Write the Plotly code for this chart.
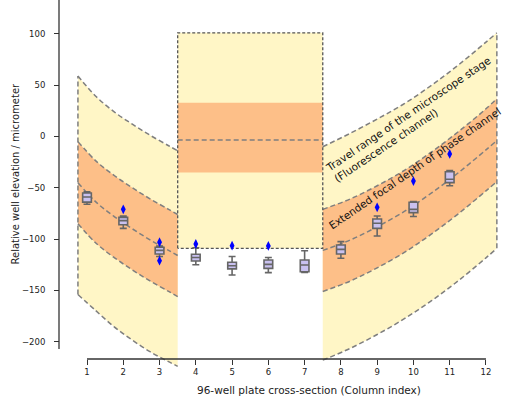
import plotly.graph_objects as go

# ---------------- data ----------------
columns = [1, 2, 3, 4, 5, 6, 7, 8, 9, 10, 11]
q1 = [-64, -86, -114.5, -121.3, -129, -128.5, -131.8, -114.5, -89.5, -74.2, -45]
medians = [-59, -82, -111, -118, -126, -124.6, -125.2, -110, -84.6, -71, -41.7]
q3 = [-55, -78.8, -108, -114.8, -122.6, -120.4, -120.4, -105.7, -80.4, -64.1, -34.3]
whisker_low = [-66, -89.5, -117, -125, -135, -132.7, -132.4, -118.7, -97, -78, -48]
whisker_high = [-54, -77.5, -106.7, -108.4, -117, -118, -111.3, -102.5, -77.5, -63.5, -33.3]
flier_cols = [2, 3, 3, 4, 5, 6, 9, 10, 11]
flier_vals = [-71, -103, -121, -104.8, -106.4, -106.7, -69, -43.4, -17]

# left band (columns 1-3)
left_x = [0.75, 1.25, 1.75, 2.25, 2.75, 3.25, 3.5]
left_travel_top = [59, 39, 24, 12, 1, -9, -14]
left_travel_bot = [-154, -170, -185.5, -198.5, -210, -219.5, -224]
left_focal_top = [-5, -24, -38, -50, -61, -71, -76]
left_focal_bot = [-85, -104, -118, -130, -141, -151, -156]
left_center = [-45, -64, -78, -90, -101, -111, -116]

# right band (columns 8-12)
right_x = [7.5, 8.25, 9, 9.75, 10.5, 11.25, 12, 12.3]
right_travel_top = [-10, 3, 17, 32, 50, 70, 92, 101]
right_travel_bot = [-218, -206.6, -193, -177.6, -160, -140.2, -118.3, -109]
right_focal_top = [-71, -61, -48, -33, -15, 5, 27, 37]
right_focal_bot = [-151, -141, -128, -113, -95, -75, -53, -44]
right_center = [-111, -101, -88, -73, -55, -35, -13, -4]

# middle block (columns 4-7)
mid_x = [3.5, 7.5]
mid_travel = [-109, 101]
mid_focal = [-35, 33]
mid_center = -3.4

x_ticks = [1, 2, 3, 4, 5, 6, 7, 8, 9, 10, 11, 12]
y_ticks = [-200, -150, -100, -50, 0, 50, 100]

# ---------------- styling ----------------
YEL = "#fff6c6"
ORA = "#fdbf88"
DASH_C = "#7f7f7f"
DASH = "5px,3px"
DOT = "3px,2px"
AX = "#333333"
FONT = "DejaVu Sans"

W, H = 512, 396
L, R, T, B = 59, 8, 0, 24
PW, PH = W - L - R, H - T - B
PX_PER_X = 36.27
PX_PER_Y = 1.026
x_range = [1 - (87 - L) / PX_PER_X, 1 + (W - R - 87) / PX_PER_X]
y_range = [(136.5 - (H - B)) / PX_PER_Y, 136.5 / PX_PER_Y]
x_axis_pos = ((H - B) - 359) / PH

fig = go.Figure()


def fill_between(xs, lo, hi, color):
    fig.add_trace(go.Scatter(x=xs, y=lo, mode="lines", line=dict(width=0, shape="spline"),
                             hoverinfo="skip", showlegend=False))
    fig.add_trace(go.Scatter(x=xs, y=hi, mode="lines", line=dict(width=0, shape="spline"),
                             fill="tonexty", fillcolor=color, hoverinfo="skip", showlegend=False))


def dashed(xs, ys, shape="spline", dash=DASH, color=DASH_C, width=1.5):
    fig.add_trace(go.Scatter(x=xs, y=ys, mode="lines",
                             line=dict(width=width, color=color, dash=dash, shape=shape),
                             hoverinfo="skip", showlegend=False))


# middle block fills
fill_between(mid_x, [mid_travel[0]] * 2, [mid_travel[1]] * 2, YEL)
fill_between(mid_x, [mid_focal[0]] * 2, [mid_focal[1]] * 2, ORA)
# side bands fills
fill_between(left_x, left_travel_bot, left_travel_top, YEL)
fill_between(left_x, left_focal_bot, left_focal_top, ORA)
fill_between(right_x, right_travel_bot, right_travel_top, YEL)
fill_between(right_x, right_focal_bot, right_focal_top, ORA)

# dashed outlines
for ys in [left_travel_top, left_travel_bot, left_focal_top, left_focal_bot, left_center]:
    dashed(left_x, ys)
for ys in [right_travel_top, right_travel_bot, right_focal_top, right_focal_bot, right_center]:
    dashed(right_x, ys)
dashed([left_x[0], left_x[0]], [left_travel_bot[0], left_travel_top[0]], shape="linear")
dashed([right_x[-1], right_x[-1]], [right_travel_bot[-1], right_travel_top[-1]], shape="linear")
dashed(mid_x, [mid_center, mid_center], shape="linear")
# middle block dotted border
dashed([mid_x[0], mid_x[0], mid_x[1], mid_x[1], mid_x[0]],
       [mid_travel[0], mid_travel[1], mid_travel[1], mid_travel[0], mid_travel[0]],
       shape="linear", dash=DOT, color="#555555", width=1.3)

# boxes on an overlay axis pair so they sit above the fills
fig.add_trace(go.Box(x=columns, q1=q1, median=medians, q3=q3,
                     lowerfence=whisker_low, upperfence=whisker_high,
                     width=0.24, whiskerwidth=0.8, boxpoints=False,
                     fillcolor="#c9c1f0", line=dict(color="#666666", width=1.6),
                     xaxis="x2", yaxis="y2", showlegend=False, hoverinfo="skip"))
fig.add_trace(go.Scatter(x=flier_cols, y=flier_vals, mode="markers",
                         marker=dict(symbol="diamond-tall", size=7, color="#0000ff",
                                     line=dict(width=0)),
                         xaxis="x2", yaxis="y2", showlegend=False, hoverinfo="skip"))

axis_common = dict(showgrid=False, zeroline=False, showline=False, ticks="outside",
                   ticklen=5, tickwidth=1, tickcolor=AX,
                   tickfont=dict(family=FONT, size=8.5, color="#222222"))

fig.update_layout(
    width=W, height=H, margin=dict(l=L, r=R, t=T, b=B, autoexpand=False),
    paper_bgcolor="white", plot_bgcolor="white",
    font=dict(family=FONT, color="#222222"),
    xaxis=dict(range=x_range, domain=[0, 1], anchor="free", position=x_axis_pos,
               tickvals=x_ticks, **axis_common),
    yaxis=dict(range=y_range, domain=[0, 1], anchor="free", position=0,
               tickvals=y_ticks, ticklabelstandoff=7, **axis_common),
    xaxis2=dict(overlaying="x", matches="x", visible=False, anchor="y2"),
    yaxis2=dict(overlaying="y", matches="y", visible=False, anchor="x2"),
    shapes=[
        dict(type="line", xref="paper", yref="y", x0=0, x1=0, y0=-207, y1=y_range[1],
             line=dict(color=AX, width=1.3), layer="above"),
        dict(type="line", xref="x", yref="paper", x0=1, x1=12, y0=x_axis_pos, y1=x_axis_pos,
             line=dict(color=AX, width=1.3), layer="above"),
    ],
    annotations=[
        dict(text="Relative well elevation / micrometer", xref="paper", yref="paper",
             x=(15 - L) / PW, y=((H - B) - 173.5) / PH, textangle=-90, showarrow=False,
             xanchor="center", yanchor="middle",
             font=dict(family=FONT, size=10, color="#222222")),
        dict(text="96-well plate cross-section (Column index)", xref="paper", yref="paper",
             x=(308.5 - L) / PW, y=((H - B) - 390) / PH, showarrow=False,
             xanchor="center", yanchor="middle",
             font=dict(family=FONT, size=10.5, color="#222222")),
        dict(text="Travel range of the microscope stage<br>(Fluorescence channel)",
             x=9.95, y=16, textangle=-34, align="left", showarrow=False,
             xanchor="center", yanchor="middle",
             font=dict(family=FONT, size=10.5, color="#111111")),
        dict(text="Extended focal depth of phase channel",
             x=10.05, y=-31, textangle=-34.5, showarrow=False,
             xanchor="center", yanchor="middle",
             font=dict(family=FONT, size=10.5, color="#111111")),
    ],
)

fig.write_html("out.html", config={"displayModeBar": False, "staticPlot": True},
               post_script="document.body.style.margin='0px';")
